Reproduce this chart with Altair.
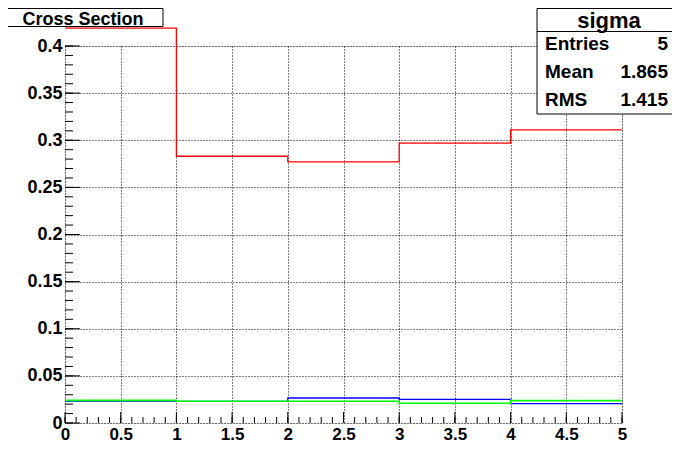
import altair as alt
import pandas as pd

# ---------------- data ----------------
EDGES = [0, 1, 2, 3, 4, 5]
RED = [0.419, 0.283, 0.277, 0.297, 0.311]
BLUE = [0.0233, 0.0230, 0.0265, 0.0251, 0.0205]
GREEN = [0.0240, 0.0230, 0.0230, 0.0209, 0.0237]
X_TICKS = [0, 0.5, 1, 1.5, 2, 2.5, 3, 3.5, 4, 4.5, 5]
Y_TICKS = [0, 0.05, 0.1, 0.15, 0.2, 0.25, 0.3, 0.35, 0.4]
TITLE = "Cross Section"
STATS_TITLE = "sigma"
STAT_NAMES = ["Entries", "Mean", "RMS"]
STAT_VALUES = ["5", "1.865", "1.415"]

# ---------------- layout ----------------
W, H = 557, 377
FONT = "Liberation Sans"
sx = alt.Scale(domain=[0, 5], nice=False, zero=False)
sy = alt.Scale(domain=[0, 0.4], nice=False, zero=False)

common = dict(format="~g", labelFont=FONT, labelFontWeight="bold",
              labelColor="black", labelFlush=False, labelOverlap=False, ticks=False,
              tickSize=0, domain=False, grid=True, gridColor="black", gridDash=[1, 2],
              gridWidth=1, gridOpacity=1, title=None)
AX = alt.Axis(values=X_TICKS, labelPadding=3, labelFontSize=17, **common)
AY = alt.Axis(values=Y_TICKS, labelPadding=3, labelFontSize=18, **common)


def hist_df(vals):
    return pd.DataFrame({"x": EDGES, "y": list(vals) + [vals[-1]]})


def hist(vals, color, sw=1.3):
    return alt.Chart(hist_df(vals)).mark_line(
        interpolate="step-after", color=color, strokeWidth=sw
    ).encode(x=alt.X("x:Q", scale=sx, axis=AX), y=alt.Y("y:Q", scale=sy, axis=AY))


# minor / major ticks drawn inward (decoration)
x_minor = [round(i * 0.1, 2) for i in range(51)]
y_minor = [round(i * 0.01, 3) for i in range(41)]
xmaj = alt.Chart(pd.DataFrame({"x": X_TICKS})).mark_rule(color="black").encode(
    x=alt.X("x:Q", scale=sx, axis=AX), y=alt.value(H), y2=alt.value(H - 11))
xmin = alt.Chart(pd.DataFrame({"x": x_minor})).mark_rule(color="black").encode(
    x=alt.X("x:Q", scale=sx, axis=AX), y=alt.value(H), y2=alt.value(H - 6))
ymaj = alt.Chart(pd.DataFrame({"y": Y_TICKS})).mark_rule(color="black").encode(
    y=alt.Y("y:Q", scale=sy, axis=AY), x=alt.value(0), x2=alt.value(15))
ymin = alt.Chart(pd.DataFrame({"y": y_minor})).mark_rule(color="black").encode(
    y=alt.Y("y:Q", scale=sy, axis=AY), x=alt.value(0), x2=alt.value(8))

one = pd.DataFrame({"a": [0]})

# title box
title_box = alt.Chart(one).mark_rect(fill="white", stroke="black", strokeWidth=1).encode(
    x=alt.value(-62), x2=alt.value(98), y=alt.value(-37.5), y2=alt.value(-19.5))
title_txt = alt.Chart(pd.DataFrame({"t": [TITLE]})).mark_text(
    font=FONT, fontWeight="bold", fontSize=18, color="black", align="center",
    baseline="alphabetic"
).encode(text="t:N", x=alt.value(18), y=alt.value(-21.5))

# stats box
stats_box = alt.Chart(one).mark_rect(fill="white", stroke="black", strokeWidth=1).encode(
    x=alt.value(472), x2=alt.value(613), y=alt.value(-37.5), y2=alt.value(68))
stats_sep = alt.Chart(one).mark_rule(color="black").encode(
    x=alt.value(472), x2=alt.value(613), y=alt.value(-14.5))
stats_head = alt.Chart(pd.DataFrame({"t": [STATS_TITLE]})).mark_text(
    font=FONT, fontWeight="bold", fontSize=22, color="black", align="center",
    baseline="alphabetic"
).encode(text="t:N", x=alt.value(544), y=alt.value(-18.5))

stat_layers = []
for i, (n, v) in enumerate(zip(STAT_NAMES, STAT_VALUES)):
    yy = 3.5 + i * 28
    stat_layers.append(alt.Chart(pd.DataFrame({"t": [n]})).mark_text(
        font=FONT, fontWeight="bold", fontSize=19, color="black", align="left",
        baseline="alphabetic"
    ).encode(text="t:N", x=alt.value(480), y=alt.value(yy)))
    stat_layers.append(alt.Chart(pd.DataFrame({"t": [v]})).mark_text(
        font=FONT, fontWeight="bold", fontSize=19, color="black", align="right",
        baseline="alphabetic"
    ).encode(text="t:N", x=alt.value(603), y=alt.value(yy)))

chart = alt.layer(
    xmin, xmaj, ymin, ymaj,
    hist(BLUE, "#0000ff"), hist(GREEN, "#00ff00", 1.6), hist(RED, "#ff0000"),
    title_box, title_txt, stats_box, stats_sep, stats_head, *stat_layers
).properties(
    width=W, height=H, autosize="none",
    padding={"left": 57, "top": 38, "right": 50, "bottom": 24},
).configure_view(stroke="black", strokeWidth=1).configure(background="white")

chart.save("out.html", embed_options={"renderer": "svg", "actions": False})
